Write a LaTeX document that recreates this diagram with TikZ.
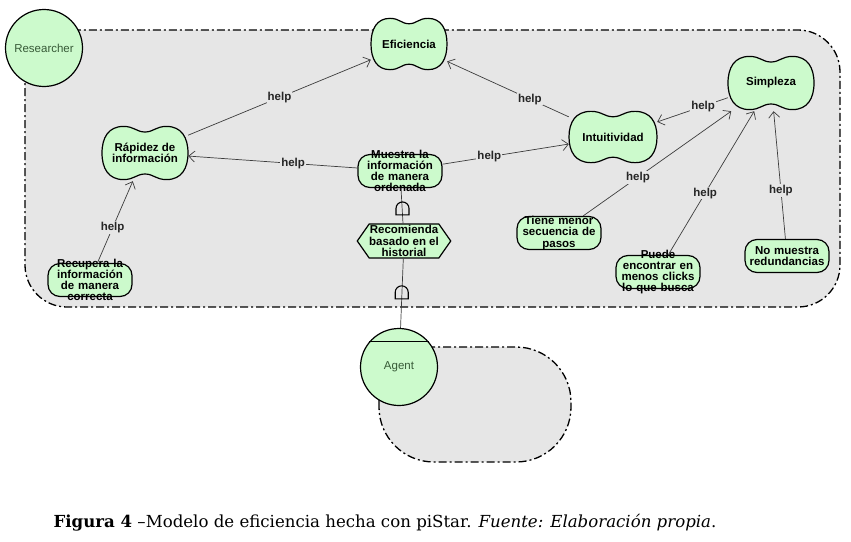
\documentclass[tikz,border=0pt]{standalone}
\usepackage{fontspec}
\setmainfont{Liberation Sans}
\newfontfamily\capfont{DejaVu Serif}
\usepackage{xcolor}
\usetikzlibrary{shapes,shapes.symbols,arrows,arrows.meta,positioning,backgrounds}

\definecolor{boundgrey}{RGB}{230,230,230}
\definecolor{elemgreen}{RGB}{204,250,204}
\definecolor{linkgrey}{RGB}{60,60,60}
\definecolor{actortext}{RGB}{55,90,55}

\begin{document}
\begin{tikzpicture}[x=1pt, y=-1pt,
    elemfont/.style={font=\fontsize{11.5}{11.2}\selectfont\bfseries},
    actor/.style={circle, draw, line width=1.2pt, fill=elemgreen, minimum size=77pt, inner sep=0pt, text=actortext, font=\fontsize{11.5}{12}\selectfont},
    goal/.style={rectangle, rounded corners=12pt, draw, line width=1.2pt, fill=elemgreen, text width=80pt, align=center, minimum height=33pt, inner ysep=-5.8pt, inner xsep=2pt, elemfont},
    softgoal/.style={rectangle, inner sep=0pt, align=center, elemfont},
    sgline/.style={draw, line width=1.2pt, fill=elemgreen},
    task/.style={shape=signal, signal to=west and east, signal pointer angle=110, draw, line width=1.2pt, fill=elemgreen, minimum width=92pt, minimum height=34pt, inner sep=0pt, align=center, elemfont},
    bound/.style={draw, fill=boundgrey, line width=1.3pt, dash pattern=on 8pt off 3pt on 2pt off 3pt, rounded corners=42pt},
    help/.style={draw=linkgrey, line width=0.7pt, -{Straight Barb[length=6pt,width=11pt]}},
    helplabel/.style={fill=boundgrey, inner sep=1pt, text=black!85, elemfont},
    andlink/.style={draw=linkgrey, line width=0.7pt},
    andmark/.style={draw, line width=1.1pt}
]
    \useasboundingbox (0,0) rectangle (851,541);

    % Actors
    \node (researcher) [actor] at (44,48) {Researcher};
    \node (agent) [actor] at (399,367) {Agent};
    \draw[line width=1.2pt] (agent.140) -- (agent.40);

    % Softgoals
    \node (eficiencia) [softgoal, minimum width=76pt, minimum height=54pt] at (409,44) {Eficiencia};
    \node (rapidez) [softgoal, minimum width=86pt, minimum height=56pt] at (145,153) {Rápidez de\\información};
    \node (intuitividad) [softgoal, minimum width=88pt, minimum height=54pt] at (613,137) {Intuitividad};
    \node (simpleza) [softgoal, minimum width=86pt, minimum height=56pt] at (771,83) {Simpleza};

    % Goals and task
    \node (muestra) [goal] at (400,171) {Muestra la\\información\\de manera\\ordenada};
    \node (recomienda) [task] at (404,241) {Recomienda\\basado en el\\historial};
    \node (recupera) [goal] at (90,280) {Recupera la\\información\\de manera\\correcta};
    \node (secuencia) [goal] at (559,233) {Tiene menor\\secuencia de\\pasos};
    \node (clicks) [goal] at (658,272) {Puede\\encontrar en\\menos clicks\\lo que busca};
    \node (redundancias) [goal] at (787,256) {No muestra\\redundancias};

    % Boundaries and softgoal outlines
    \begin{pgfonlayer}{background}
        \path[bound] (25,30) rectangle (840,307);
        \path[bound, rounded corners=55pt] (379,347) rectangle (571,462);
        \foreach \n/\w/\h in {eficiencia/38/27, rapidez/43/28, intuitividad/44/27, simpleza/43/28}
            \path[sgline, shift={(\n.center)}, x=\w pt, y=\h pt]
                (-1,0) .. controls (-1,0.55) and (-0.85,0.95) .. (-0.5,0.95)
                .. controls (-0.25,0.95) and (-0.2,0.75) .. (0,0.75)
                .. controls (0.2,0.75) and (0.25,0.95) .. (0.5,0.95)
                .. controls (0.85,0.95) and (1,0.55) .. (1,0)
                .. controls (1,-0.55) and (0.85,-0.95) .. (0.5,-0.95)
                .. controls (0.25,-0.95) and (0.2,-0.75) .. (0,-0.75)
                .. controls (-0.2,-0.75) and (-0.25,-0.95) .. (-0.5,-0.95)
                .. controls (-0.85,-0.95) and (-1,-0.55) .. (-1,0) -- cycle;
    \end{pgfonlayer}

    % Edges
    \draw[help] (rapidez) -- node[helplabel] {help} (eficiencia);
    \draw[help] (intuitividad) -- node[helplabel, pos=0.32] {help} (eficiencia);
    \draw[help] (muestra) -- node[helplabel, pos=0.38] {help} (rapidez);
    \draw[help] (muestra) -- node[helplabel, pos=0.37] {help} (intuitividad);
    \draw[help] (simpleza) -- node[helplabel, pos=0.35] {help} (intuitividad);
    \draw[help] (secuencia) -- node[helplabel, pos=0.37] {help} (simpleza);
    \draw[help] (clicks) -- node[helplabel, pos=0.43] {help} (simpleza);
    \draw[help] (redundancias) -- node[helplabel, pos=0.38] {help} (simpleza);
    \draw[help] (recupera) -- node[helplabel, pos=0.43] {help} (rapidez);

    % AND refinements
    \draw[andlink] (recomienda) -- coordinate[pos=0.24] (and1) (muestra);
    \draw[andlink] (agent) -- coordinate[pos=0.42] (and2) (recomienda);
    \foreach \c in {and1, and2}
        \draw[andmark] (\c) ++(-6.5,0) -- ++(0,-6.5) arc[start angle=180, end angle=0, radius=6.5pt] -- ++(0,6.5) -- cycle;

    % Caption
    \node (caption) at (385,523) {\capfont\fontsize{16.6}{18}\selectfont\textbf{Figura 4} –Modelo de eficiencia hecha con piStar. \textit{Fuente: Elaboración propia}.};
\end{tikzpicture}
\end{document}
